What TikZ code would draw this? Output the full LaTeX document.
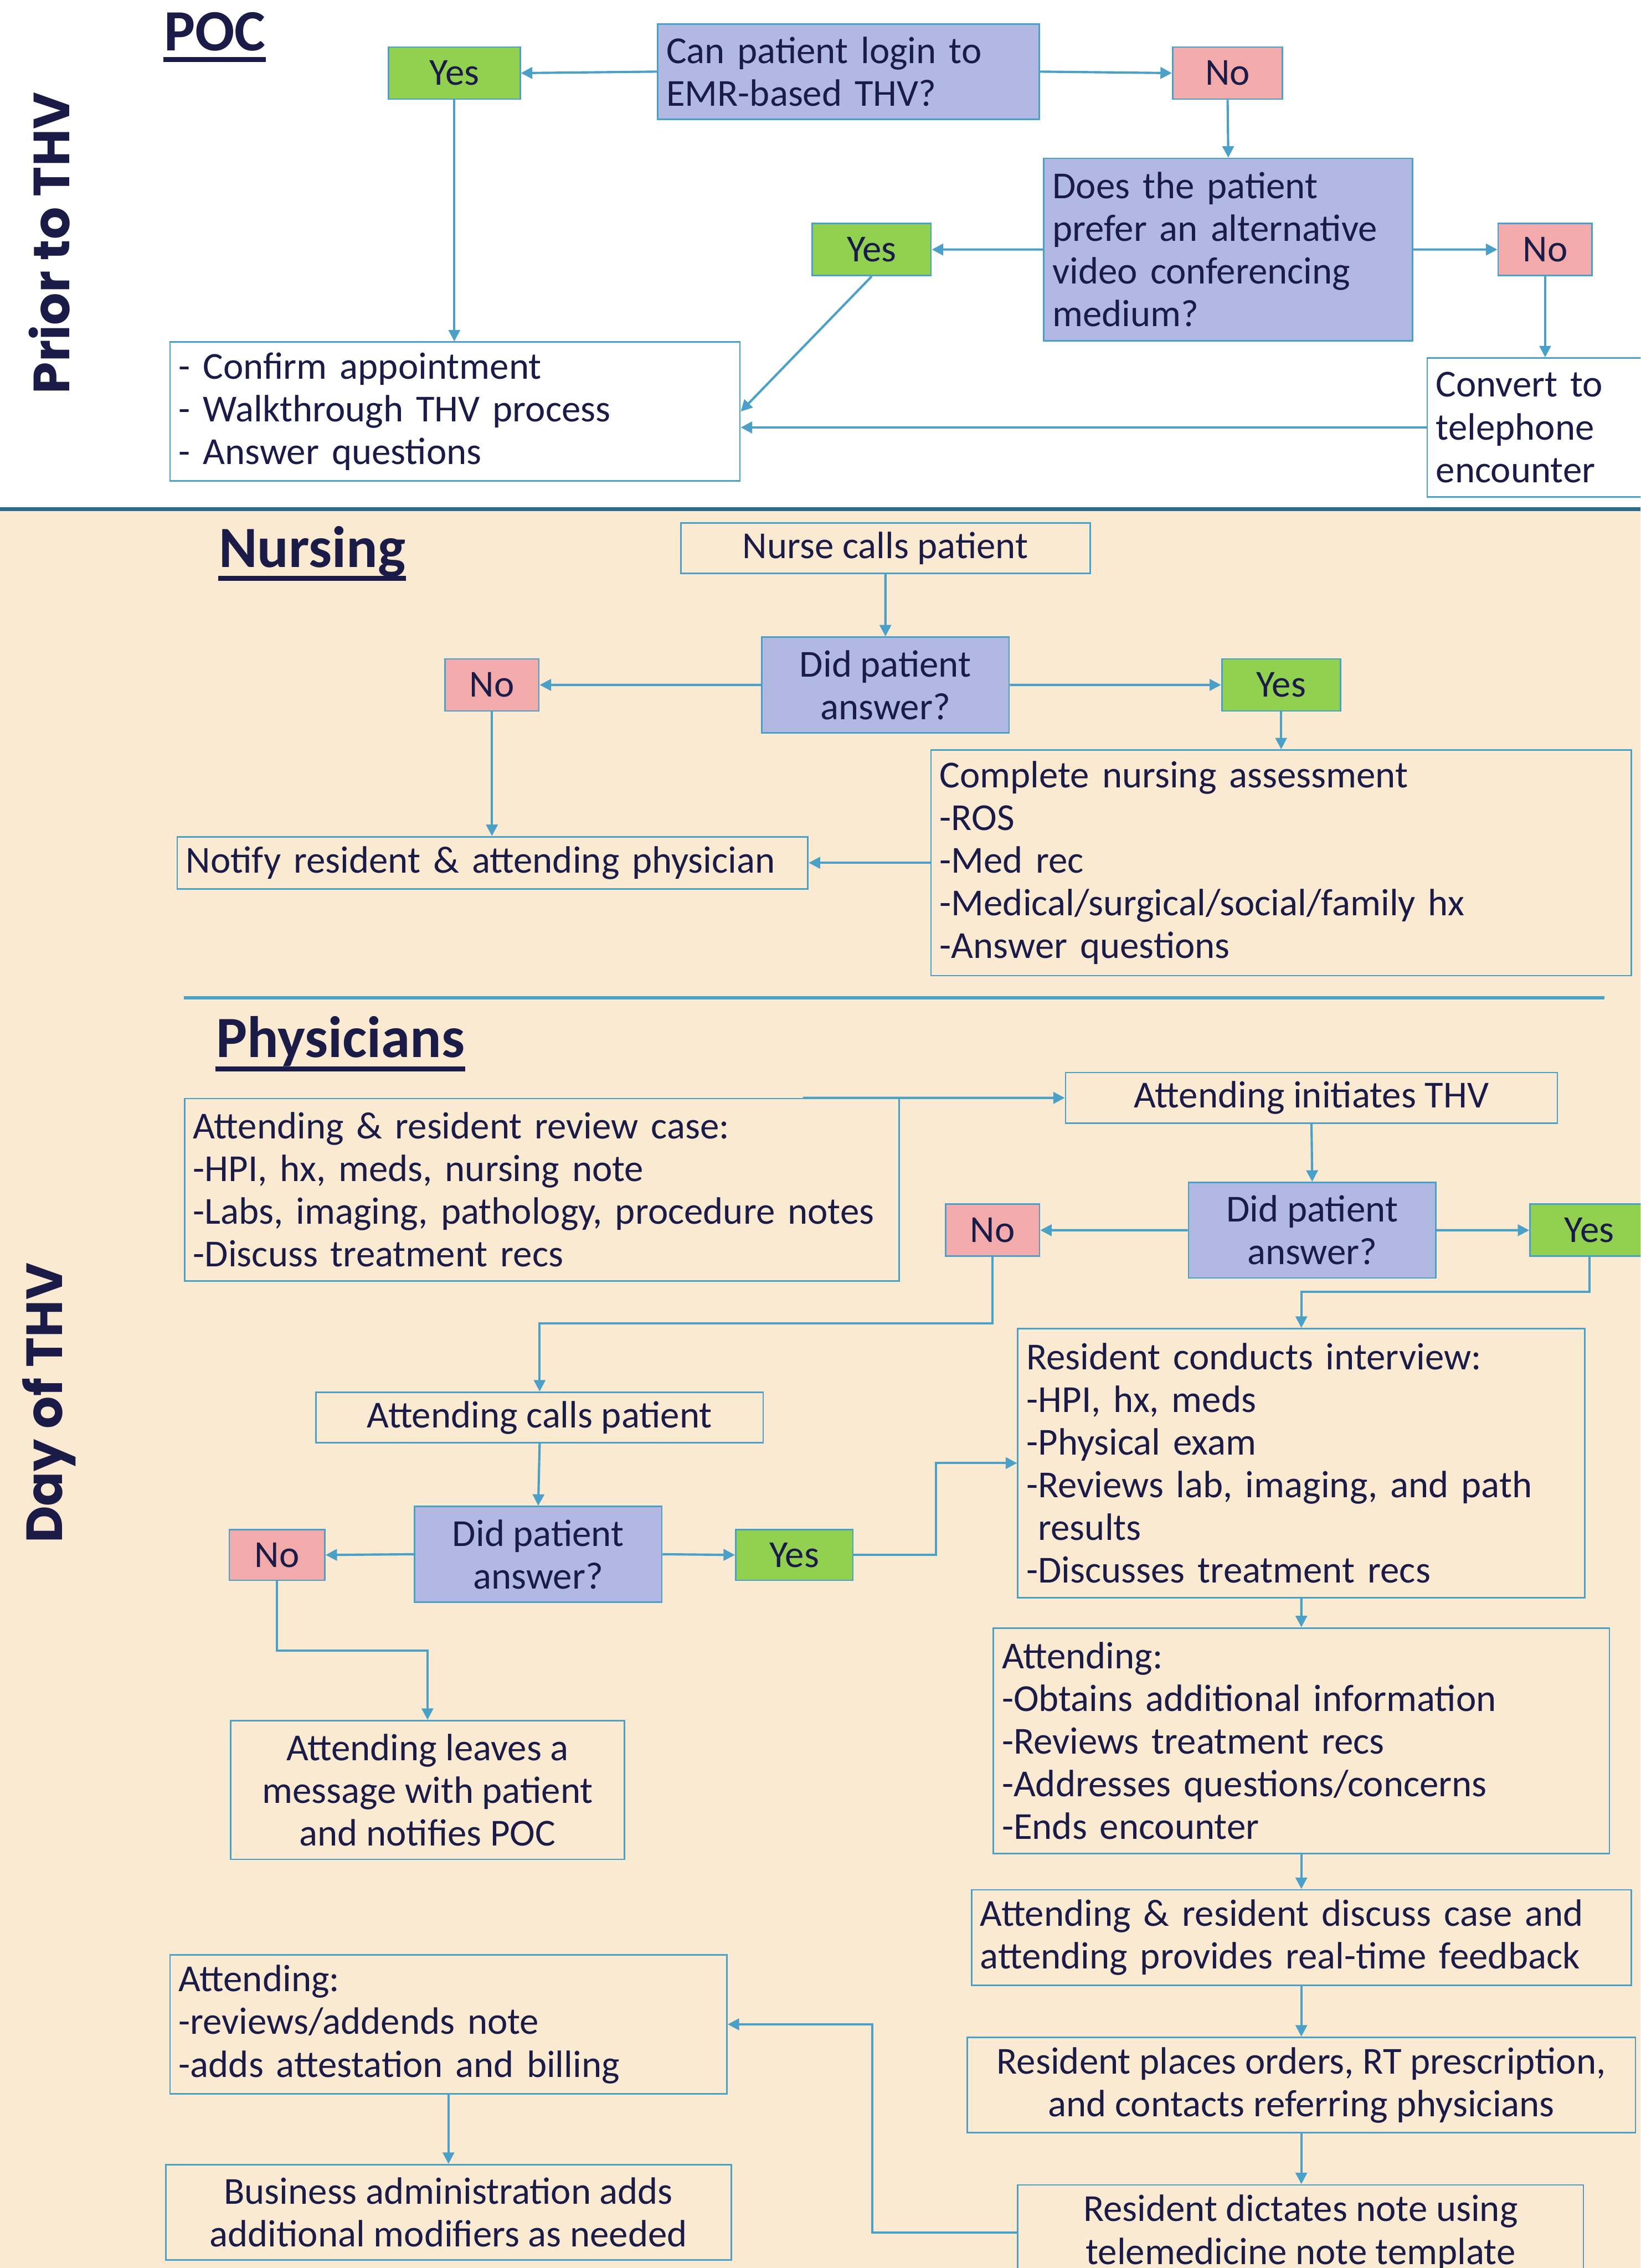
\documentclass[tikz,border=0pt]{standalone}
\usepackage{fontspec}
\setmainfont{Carlito}
\newfontfamily\sidefont{Poppins}
\usetikzlibrary{arrows.meta}

\definecolor{ink}{HTML}{1B1B48}
\definecolor{linec}{HTML}{4BA0C8}
\definecolor{askc}{HTML}{B1B9E3}
\definecolor{yesc}{HTML}{92D050}
\definecolor{noc}{HTML}{F2AAAA}
\definecolor{sand}{HTML}{FBEAD2}
\definecolor{rulec}{HTML}{2E6B8A}

\newcommand\bodysize{\fontsize{15}{16.8}\selectfont}

\tikzset{
  box/.style={draw=linec, line width=0.6pt, anchor=north west, inner xsep=0.12cm,
    inner ysep=0pt, text=ink, font=\bodysize, align=left},
  askbox/.style={box, fill=askc},
  yesbox/.style={box, fill=yesc, align=center},
  nobox/.style={box, fill=noc, align=center},
  arr/.style={draw=linec, line width=0.9pt, -{Triangle[length=4.5pt,width=4.5pt]}},
  heading/.style={anchor=base west, inner sep=0pt, text=ink,
    font=\fontsize{23}{26}\selectfont\bfseries},
  side/.style={rotate=90, inner sep=0pt, text=ink,
    font=\sidefont\fontsize{20}{22}\selectfont\bfseries}
}

\begin{document}
\begin{tikzpicture}[x=0.02cm, y=-0.02cm]
    \useasboundingbox (0,0) rectangle (1134,1568);
    \clip (0,0) rectangle (1134,1568);

    % Backgrounds and rules
    \fill[sand] (0,352) rectangle (1134,1568);
    \draw[rulec, line width=1.7pt] (0,352) -- (1134,352);
    \draw[linec, line width=1.3pt] (127,690) -- (1109,690);

    % Side labels
    \node[side] (prior) at (34,168) {Prior to THV};
    \node[side] (day) at (34,970) {Day of THV};

    % Headings
    \node[heading] (poc) at (113,35) {POC};
    \draw[ink, line width=2pt] ([yshift=-3.5pt]poc.base west) -- ([yshift=-3.5pt]poc.base east);
    \node[heading] (nursing) at (151,392) {Nursing};
    \draw[ink, line width=2pt] ([yshift=-4.5pt]nursing.base west) -- ([yshift=-4.5pt]nursing.base east);
    \node[heading] (physicians) at (149,731) {Physicians};
    \draw[ink, line width=2pt] ([yshift=-4.5pt]physicians.base west) -- ([yshift=-4.5pt]physicians.base east);

    % Prior to THV: login question
    \node[askbox, minimum width=5.28cm, minimum height=1.32cm, text width=5.04cm] (login) at (454,16)
        {Can patient login to\\EMR-based THV?};
    \node[yesbox, minimum width=1.82cm, minimum height=0.72cm] (yesa) at (268,32) {Yes};
    \node[nobox, minimum width=1.52cm, minimum height=0.72cm] (noa) at (810,32) {No};
    \node[askbox, minimum width=5.10cm, minimum height=2.52cm, text width=4.86cm] (prefer) at (721,109)
        {Does the patient\\prefer an alternative\\video conferencing\\medium?};
    \node[yesbox, minimum width=1.64cm, minimum height=0.72cm] (yesb) at (561,154) {Yes};
    \node[nobox, minimum width=1.30cm, minimum height=0.72cm] (nob) at (1035,154) {No};
    \node[box, fill=white, minimum width=7.88cm, minimum height=1.92cm, text width=7.64cm] (confirm) at (117,236)
        {- Confirm appointment\\- Walkthrough THV process\\- Answer questions};
    \node[box, fill=white, minimum width=3.40cm, minimum height=1.92cm, text width=3.16cm] (convert) at (986,247)
        {Convert to\\telephone\\encounter};

    \draw[arr] (login.west) -- (yesa.east);
    \draw[arr] (login.east) -- (noa.west);
    \draw[arr] (noa.south) -- (prefer.north);
    \draw[arr] (prefer.west) -- (yesb.east);
    \draw[arr] (prefer.east) -- (nob.west);
    \draw[arr] (nob.south) -- (nob.south |- convert.north);
    \draw[arr] (yesa.south) -- (yesa.south |- confirm.north);
    \draw[arr] (yesb.south) -- (confirm.east);
    \draw[arr] (convert.west) -- (convert.west -| confirm.east);

    % Nursing
    \node[box, align=center, minimum width=5.66cm, minimum height=0.70cm] (nurse) at (470,361) {Nurse calls patient};
    \node[askbox, align=center, minimum width=3.42cm, minimum height=1.32cm] (answera) at (526,440)
        {Did patient\\answer?};
    \node[nobox, minimum width=1.30cm, minimum height=0.72cm] (noc) at (307,455) {No};
    \node[yesbox, minimum width=1.64cm, minimum height=0.72cm] (yesc) at (844,455) {Yes};
    \node[box, minimum width=8.72cm, minimum height=0.72cm, text width=8.48cm] (notify) at (122,578)
        {Notify resident \& attending physician};
    \node[box, minimum width=9.68cm, minimum height=3.12cm, text width=9.44cm] (assess) at (643,518)
        {Complete nursing assessment\\-ROS\\-Med rec\\-Medical/surgical/social/family hx\\-Answer questions};

    \draw[arr] (nurse.south) -- (answera.north);
    \draw[arr] (answera.west) -- (noc.east);
    \draw[arr] (answera.east) -- (yesc.west);
    \draw[arr] (noc.south) -- (noc.south |- notify.north);
    \draw[arr] (yesc.south) -- (yesc.south |- assess.north);
    \draw[arr] (assess.west) -- (assess.west -| notify.east);

    % Physicians: first call
    \node[box, minimum width=9.88cm, minimum height=2.52cm, text width=9.64cm] (review) at (127,759)
        {Attending \& resident review case:\\-HPI, hx, meds, nursing note\\-Labs, imaging, pathology, procedure notes\\-Discuss treatment recs};
    \coordinate (reviewtop) at (555,759);
    \node[box, align=center, minimum width=6.80cm, minimum height=0.70cm] (initiate) at (736,741) {Attending initiates THV};
    \node[askbox, align=center, minimum width=3.42cm, minimum height=1.32cm] (answerb) at (821,817)
        {Did patient\\answer?};
    \node[nobox, minimum width=1.30cm, minimum height=0.72cm] (nod) at (653,832) {No};
    \node[yesbox, minimum width=1.64cm, minimum height=0.72cm] (yesd) at (1057,832) {Yes};

    \draw[arr] (reviewtop) -- (initiate.west);
    \draw[arr] (initiate.south) -- (answerb.north);
    \draw[arr] (answerb.west) -- (nod.east);
    \draw[arr] (answerb.east) -- (yesd.west);

    % Physicians: attending calls patient
    \node[box, align=center, minimum width=6.18cm, minimum height=0.70cm] (calls) at (218,962) {Attending calls patient};
    \node[askbox, align=center, minimum width=3.42cm, minimum height=1.32cm] (answerc) at (286,1041)
        {Did patient\\answer?};
    \node[nobox, minimum width=1.32cm, minimum height=0.70cm] (noe) at (158,1057) {No};
    \node[yesbox, minimum width=1.62cm, minimum height=0.70cm] (yese) at (508,1057) {Yes};
    \node[box, align=center, minimum width=5.44cm, minimum height=1.92cm] (leaves) at (159,1189)
        {Attending leaves a\\message with patient\\and notifies POC};

    \draw[arr] (nod.south) -- ++(0,46) -| (calls.north);
    \draw[arr] (calls.south) -- (answerc.north);
    \draw[arr] (answerc.west) -- (noe.east);
    \draw[arr] (answerc.east) -- (yese.west);
    \draw[arr] (noe.south) -- ++(0,48) -| (leaves.north);

    % Physicians: visit and wrap-up
    \node[box, minimum width=7.84cm, minimum height=3.72cm, text width=7.60cm] (interview) at (703,918)
        {Resident conducts interview:\\-HPI, hx, meds\\-Physical exam\\-Reviews lab, imaging, and path\\\phantom{-}results\\-Discusses treatment recs};
    \node[box, minimum width=8.52cm, minimum height=3.12cm, text width=8.28cm] (attend) at (686,1125)
        {Attending:\\-Obtains additional information\\-Reviews treatment recs\\-Addresses questions/concerns\\-Ends encounter};
    \node[box, minimum width=9.12cm, minimum height=1.32cm, text width=8.88cm] (discuss) at (671,1306)
        {Attending \& resident discuss case and\\attending provides real-time feedback};
    \node[box, align=center, minimum width=9.24cm, minimum height=1.32cm] (orders) at (668,1408)
        {Resident places orders, RT prescription,\\and contacts referring physicians};
    \node[box, align=center, minimum width=7.82cm, minimum height=1.32cm] (dictate) at (703,1510)
        {Resident dictates note using\\telemedicine note template};
    \node[box, minimum width=7.70cm, minimum height=1.92cm, text width=7.46cm] (addends) at (117,1351)
        {Attending:\\-reviews/addends note\\-adds attestation and billing};
    \node[box, align=center, minimum width=7.82cm, minimum height=1.32cm] (business) at (114,1496)
        {Business administration adds\\additional modifiers as needed};

    \draw[arr] (yesd.south) -- ++(0,24) -| (interview.north);
    \draw[arr] (yese.east) -- ++(57,0) |- (interview.west);
    \draw[arr] (interview.south) -- (attend.north);
    \draw[arr] (attend.south) -- (attend.south |- discuss.north);
    \draw[arr] (discuss.south) -- (discuss.south |- orders.north);
    \draw[arr] (orders.south) -- (orders.south |- dictate.north);
    \draw[arr] (dictate.west) -- ++(-100,0) |- (addends.east);
    \draw[arr] (addends.south) -- (addends.south |- business.north);
\end{tikzpicture}
\end{document}
